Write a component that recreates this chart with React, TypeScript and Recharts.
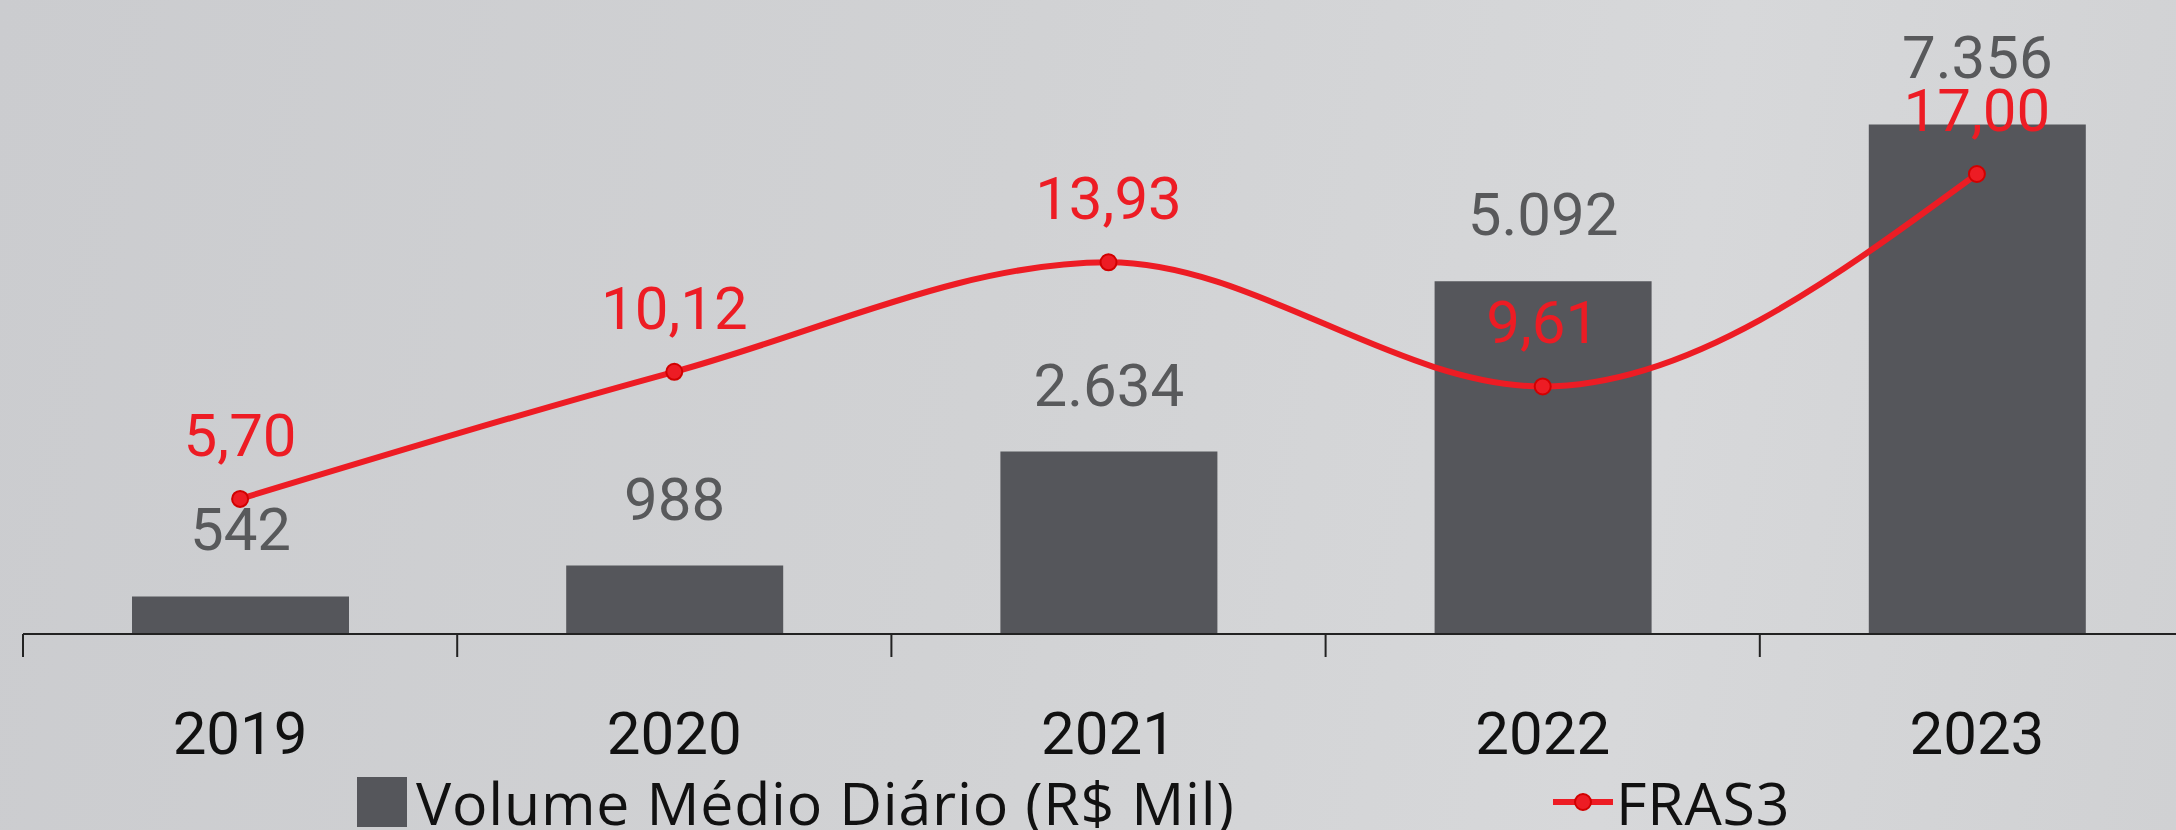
import { Bar, ComposedChart, LabelList, Legend, Line, XAxis, YAxis } from "recharts";

const years = ["2019", "2020", "2021", "2022", "2023"];
const volume = [542, 988, 2634, 5092, 7356];
const fras3 = [5.7, 10.12, 13.93, 9.61, 17.0];
const volumeLabels = ["542", "988", "2.634", "5.092", "7.356"];
const fras3Labels = ["5,70", "10,12", "13,93", "9,61", "17,00"];
const boundaryTicks = [0, 1, 2, 3, 4, 5];

const data = years.map((year, i) => ({
  year,
  idx: i + 0.5,
  volume: volume[i],
  fras3: fras3[i],
  volumeLabel: volumeLabels[i],
  fras3Label: fras3Labels[i]
}));

const FONT = "Roboto, 'Open Sans', sans-serif";
const LEGEND_FONT = "'Open Sans', Roboto, sans-serif";
const BAR_COLOR = "#55565b";
const RED = "#ed1c24";

function YearTick({ x, y, payload }: { x?: number; y?: number; payload?: { value: string } }) {
  return (
    <text x={x} y={y} dy={119} textAnchor="middle" fill="#111" fontSize={60} fontFamily={FONT}>
      {payload?.value}
    </text>
  );
}

// boundary axis only draws tick lines, no labels
function NoLabel() {
  return <g />;
}

function ChartLegend() {
  return (
    <div
      style={{
        position: "relative",
        height: 60,
        fontFamily: LEGEND_FONT,
        fontSize: 59,
        letterSpacing: 0.8,
        color: "#111",
        lineHeight: "60px"
      }}
    >
      <div style={{ position: "absolute", left: 357, top: 0, display: "flex", alignItems: "center", whiteSpace: "nowrap" }}>
        <span style={{ width: 50, height: 50, background: BAR_COLOR, display: "inline-block", marginRight: 9 }} />
        <span>Volume Médio Diário (R$ Mil)</span>
      </div>
      <div style={{ position: "absolute", left: 1553, top: 0, display: "flex", alignItems: "center", whiteSpace: "nowrap" }}>
        <svg width={60} height={20} style={{ marginRight: 3 }}>
          <line x1={0} y1={10} x2={60} y2={10} stroke={RED} strokeWidth={6} />
          <circle cx={30} cy={10} r={8} fill={RED} stroke="#d10000" strokeWidth={2} />
        </svg>
        <span>FRAS3</span>
      </div>
    </div>
  );
}

export default function App() {
  return (
    <div
      style={{
        position: "fixed",
        left: 0,
        top: 0,
        width: 2176,
        height: 830,
        overflow: "hidden",
        background: "linear-gradient(100deg, #cbcccf 0%, #d1d2d4 45%, #d7d8da 75%, #d0d1d3 100%)"
      }}
    >
      <ComposedChart width={2200} height={830} data={data} margin={{ top: 59, right: 6, bottom: 86, left: 23 }}>
        <XAxis
          xAxisId="bounds"
          type="number"
          dataKey="idx"
          domain={[0, 5]}
          ticks={boundaryTicks}
          interval={0}
          tick={<NoLabel />}
          tickSize={23}
          height={1}
          stroke="#222"
          axisLine={{ stroke: "#222", strokeWidth: 2 }}
          tickLine={{ stroke: "#222", strokeWidth: 2 }}
        />
        <XAxis
          xAxisId="cat"
          dataKey="year"
          axisLine={false}
          tickLine={false}
          tickSize={0}
          tickMargin={0}
          height={109}
          tick={<YearTick />}
          interval={0}
        />
        <YAxis yAxisId="vol" hide domain={[0, 8300]} />
        <YAxis yAxisId="price" hide orientation="right" domain={[1, 21]} />
        <Legend
          verticalAlign="middle"
          align="center"
          layout="horizontal"
          wrapperStyle={{ top: 772, left: 0, width: 2176 }}
          content={() => <ChartLegend />}
        />
        <Bar
          xAxisId="cat"
          yAxisId="vol"
          dataKey="volume"
          name="Volume Médio Diário (R$ Mil)"
          fill={BAR_COLOR}
          barSize={217}
          isAnimationActive={false}
        >
          <LabelList dataKey="volumeLabel" position="top" offset={46} fill="#58595b" fontSize={60} fontFamily={FONT} />
        </Bar>
        <Line
          xAxisId="cat"
          yAxisId="price"
          type="monotone"
          dataKey="fras3"
          name="FRAS3"
          stroke={RED}
          strokeWidth={6}
          dot={{ r: 8, fill: RED, stroke: "#d10000", strokeWidth: 2 }}
          isAnimationActive={false}
        >
          <LabelList dataKey="fras3Label" position="top" offset={43} fill={RED} fontSize={60} fontFamily={FONT} />
        </Line>
      </ComposedChart>
    </div>
  );
}
